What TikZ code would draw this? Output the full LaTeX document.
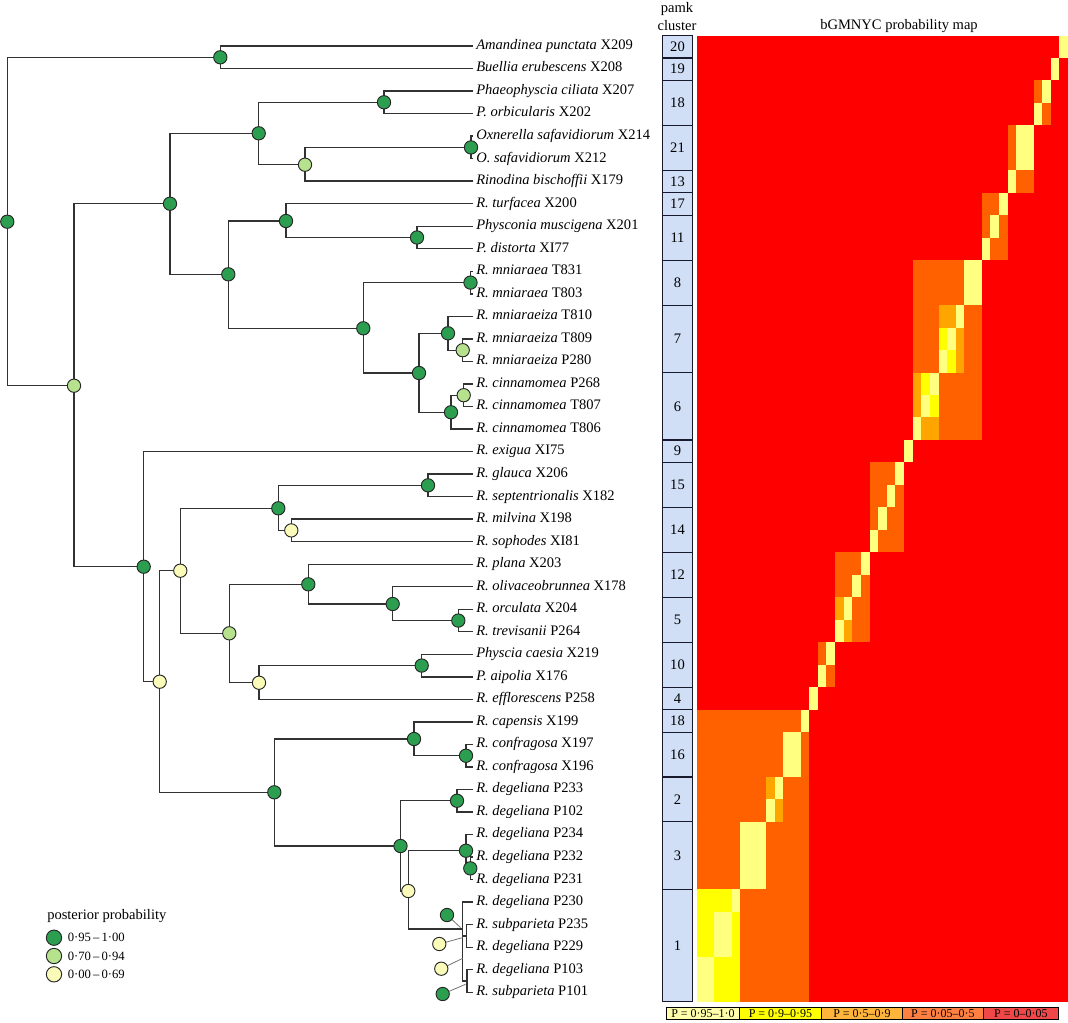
\documentclass[tikz,border=0pt]{standalone}
\usepackage{fontspec}
\setmainfont{Liberation Serif}
\usetikzlibrary{backgrounds}
\definecolor{cdg}{RGB}{44,158,80}
\definecolor{clg}{RGB}{182,226,142}
\definecolor{cly}{RGB}{250,250,185}
\definecolor{cbr}{RGB}{50,50,50}
\definecolor{hpale}{RGB}{255,255,128}
\definecolor{hyel}{RGB}{255,255,0}
\definecolor{hmid}{RGB}{255,165,0}
\definecolor{horg}{RGB}{255,96,0}
\definecolor{hred}{RGB}{255,0,0}
\definecolor{cpamk}{RGB}{208,222,246}
\definecolor{cbox}{RGB}{25,25,45}
\definecolor{lpale}{RGB}{255,255,170}
\definecolor{lyel}{RGB}{255,255,0}
\definecolor{lmid}{RGB}{255,180,60}
\definecolor{lorg}{RGB}{255,128,64}
\definecolor{lred}{RGB}{240,72,72}
\def\hmcw{8.628}
\def\hmrh{22.47}
\def\hmtop{35.5}
\newcommand{\hmblk}[5]{\fill[#5] ({697+(43-#4)*\hmcw},{\hmtop+(#1-1)*\hmrh}) rectangle ({697+(44-#3)*\hmcw},{\hmtop+#2*\hmrh});}
\tikzset{
  pp/.style={circle, draw=black!85, line width=0.7pt, minimum size=10pt, inner sep=0pt},
  dg/.style={pp, fill=cdg},
  lg/.style={pp, fill=clg},
  ly/.style={pp, fill=cly},
  br/.style={line width=1.05pt, draw=cbr},
  leader/.style={line width=0.6pt, draw=black!55},
  leaf/.style={anchor=west, inner xsep=2.25pt, inner ysep=0pt, text height=7.5pt, text depth=2.4pt, font=\fontsize{10.9}{12}\selectfont},
  pbox/.style={draw=cbox, line width=0.8pt, fill=cpamk},
  pnum/.style={inner sep=0pt, font=\fontsize{10.9}{12}\selectfont},
  head/.style={inner sep=0pt, font=\fontsize{10.9}{12}\selectfont},
  lgbox/.style={draw=black, line width=0.6pt, minimum height=8.5pt, inner sep=0pt, font=\fontsize{9}{10}\selectfont},
  lgtxt/.style={anchor=west, inner sep=0pt, font=\fontsize{9.5}{11}\selectfont},
  lgc/.style={circle, draw=black!85, line width=0.7pt, minimum size=11.5pt, inner sep=0pt}
}
\begin{document}
\begin{tikzpicture}[x=0.75pt,y=-0.75pt]
\useasboundingbox (0,0) rectangle (1068,1022);

% ---------- heatmap ----------
\fill[hred] (697,\hmtop) rectangle (1068,{\hmtop+43*\hmrh});
\hmblk{3}{4}{3}{4}{horg}
\hmblk{5}{7}{5}{7}{horg}
\hmblk{8}{10}{8}{10}{horg}
\hmblk{11}{18}{11}{18}{horg}
\hmblk{20}{23}{20}{23}{horg}
\hmblk{24}{27}{24}{27}{horg}
\hmblk{28}{29}{28}{29}{horg}
\hmblk{31}{43}{31}{43}{horg}
\hmblk{13}{15}{13}{15}{hmid}
\hmblk{16}{18}{16}{18}{hmid}
\hmblk{26}{27}{26}{27}{hmid}
\hmblk{34}{35}{34}{35}{hmid}
\hmblk{14}{15}{14}{15}{hyel}
\hmblk{16}{17}{16}{17}{hyel}
\hmblk{39}{43}{39}{43}{hyel}
\hmblk{5}{6}{5}{6}{hpale}
\hmblk{11}{12}{11}{12}{hpale}
\hmblk{32}{33}{32}{33}{hpale}
\hmblk{36}{38}{36}{38}{hpale}
\hmblk{40}{41}{40}{41}{hpale}
\hmblk{42}{43}{42}{43}{hpale}
\foreach \i in {1,...,43} {\hmblk{\i}{\i}{\i}{\i}{hpale}}

% ---------- pamk clusters ----------
\foreach \a/\b/\k in {1/1/20,2/2/19,3/4/18,5/6/21,7/7/13,8/8/17,9/10/11,11/12/8,13/15/7,16/18/6,19/19/9,20/21/15,22/23/14,24/25/12,26/27/5,28/29/10,30/30/4,31/31/18,32/33/16,34/35/2,36/38/3,39/43/1} {
  \draw[pbox] (662.5,{\hmtop+(\a-1)*\hmrh}) rectangle (692.5,{\hmtop+\b*\hmrh});
  \node[pnum] (pk\a) at (677.5,{\hmtop+(\a+\b-1)/2*\hmrh}) {\k};
}
\node[head] (hpamk) at (677,9) {pamk};
\node[head] (hclus) at (677,25.5) {cluster};
\node[head] (hmap) at (899,26.5) {bGMNYC probability map};

% ---------- leaves ----------
\foreach \i/\sp/\id in {1/Amandinea punctata/X209, 2/Buellia erubescens/X208, 3/Phaeophyscia ciliata/X207, 4/P. orbicularis/X202, 5/Oxnerella safavidiorum/X214, 6/O. safavidiorum/X212, 7/Rinodina bischoffii/X179, 8/R. turfacea/X200, 9/Physconia muscigena/X201, 10/P. distorta/XI77, 11/R. mniaraea/T831, 12/R. mniaraea/T803, 13/R. mniaraeiza/T810, 14/R. mniaraeiza/T809, 15/R. mniaraeiza/P280, 16/R. cinnamomea/P268, 17/R. cinnamomea/T807, 18/R. cinnamomea/T806, 19/R. exigua/XI75, 20/R. glauca/X206, 21/R. septentrionalis/X182, 22/R. milvina/X198, 23/R. sophodes/XI81, 24/R. plana/X203, 25/R. olivaceobrunnea/X178, 26/R. orculata/X204, 27/R. trevisanii/P264, 28/Physcia caesia/X219, 29/P. aipolia/X176, 30/R. efflorescens/P258, 31/R. capensis/X199, 32/R. confragosa/X197, 33/R. confragosa/X196, 34/R. degeliana/P233, 35/R. degeliana/P102, 36/R. degeliana/P234, 37/R. degeliana/P232, 38/R. degeliana/P231, 39/R. degeliana/P230, 40/R. subparieta/P235, 41/R. degeliana/P229, 42/R. degeliana/P103, 43/R. subparieta/P101} {
  \node[leaf] (l\i) at (473,{46+(\i-1)*22.53}) {\textit{\sp} \id};
}

% ---------- tree nodes ----------
\node[dg] (nR) at (7.3,221.7) {};
\node[dg] (nAB) at (220.3,57.3) {};
\node[lg] (na) at (74,385.7) {};
\node[dg] (nb) at (170,203.7) {};
\node[dg] (nd) at (258.7,133.3) {};
\node[dg] (nf) at (384,102.3) {};
\node[lg] (ng) at (305,164.7) {};
\node[dg] (nh) at (471,147.4) {};
\node[dg] (ne) at (228.3,274.3) {};
\node[dg] (ni) at (286,221) {};
\node[dg] (nk) at (417,237.5) {};
\node[dg] (nj) at (363.3,328.3) {};
\node[dg] (nl) at (470.5,282.6) {};
\node[dg] (nm) at (419,373) {};
\node[dg] (nn) at (448,333.3) {};
\node[lg] (np) at (462.7,350.2) {};
\node[dg] (no) at (451,412.3) {};
\node[lg] (nq) at (463.7,395.2) {};
\node[dg] (nc) at (143.7,566.7) {};
\node[ly] (nr) at (159.7,681.7) {};
\node[ly] (ns) at (180.3,570.7) {};
\node[dg] (nu) at (278.3,508.3) {};
\node[dg] (nw) at (428,485.35) {};
\node[ly] (nx) at (291.3,530.4) {};
\node[lg] (nv) at (229.3,633.3) {};
\node[dg] (ny) at (308.3,584.3) {};
\node[dg] (naa) at (392.7,604) {};
\node[dg] (nab) at (458.3,620.55) {};
\node[ly] (nz) at (259,682.7) {};
\node[dg] (nac) at (421.7,665.55) {};
\node[dg] (nt) at (274.3,792.3) {};
\node[dg] (nad) at (414,739) {};
\node[dg] (naf) at (466,755.7) {};
\node[dg] (nae) at (400.5,846) {};
\node[dg] (nag) at (457,800.75) {};
\node[ly] (nah) at (408.3,891) {};
\node[dg] (nai) at (466,850.7) {};
\node[dg] (nak) at (470.3,868.35) {};
\coordinate (naj) at (462.7,929);
\coordinate (nal) at (466.7,935.95);
\coordinate (nam) at (467,981);

% callouts for the tiny cluster-1 nodes
\node[dg] (k1) at (447,915) {};
\node[ly] (k2) at (439.3,944) {};
\node[ly] (k3) at (441.3,968.7) {};
\node[dg] (k4) at (442.7,994) {};
\coordinate (t1) at (460.5,927.5);
\coordinate (t2) at (463,937.5);
\coordinate (t3) at (462.7,958.3);
\coordinate (t4) at (465.5,984.3);

\begin{pgfonlayer}{background}
\foreach \p/\c in {nR/nAB, nR/na, na/nb, na/nc, nb/nd, nb/ne, nd/nf, nd/ng, ng/nh, ne/ni, ne/nj, ni/nk, nj/nl, nj/nm, nm/nn, nm/no, nn/np, no/nq, nc/nr, nr/ns, nr/nt, ns/nu, ns/nv, nu/nw, nu/nx, nv/ny, nv/nz, ny/naa, naa/nab, nz/nac, nt/nad, nt/nae, nad/naf, nae/nag, nae/nah, nah/nai, nah/naj, nai/nak, naj/nal, naj/nam} {
  \draw[br] (\p.center) |- (\c.center);
}
\foreach \p/\c in {nAB/1, nAB/2, nf/3, nf/4, nh/5, nh/6, ng/7, ni/8, nk/9, nk/10, nl/11, nl/12, nn/13, np/14, np/15, nq/16, nq/17, no/18, nc/19, nw/20, nw/21, nx/22, nx/23, ny/24, naa/25, nab/26, nab/27, nac/28, nac/29, nz/30, nad/31, naf/32, naf/33, nag/34, nag/35, nai/36, nak/37, nak/38, naj/39, nal/40, nal/41, nam/42, nam/43} {
  \draw[br] (\p.center) |- (l\c.west);
}
\draw[leader] (k1) -- (t1);
\draw[leader] (k2) -- (t2);
\draw[leader] (k3) -- (t3);
\draw[leader] (k4) -- (t4);
\end{pgfonlayer}

% ---------- posterior legend ----------
\node[anchor=west, inner sep=0pt, font=\fontsize{10.9}{12}\selectfont] (ptitle) at (47,916.5) {posterior probability};
\node[lgc, fill=cdg] (g1) at (54,937.7) {};
\node[lgc, fill=clg] (g2) at (54,956) {};
\node[lgc, fill=cly] (g3) at (54,974.3) {};
\node[lgtxt] (gt1) at (67.5,937.7) {0·95\,–\,1·00};
\node[lgtxt] (gt2) at (67.5,956) {0·70\,–\,0·94};
\node[lgtxt] (gt3) at (67.5,974.3) {0·00\,–\,0·69};

% ---------- probability legend ----------
\node[lgbox, fill=lpale, minimum width=54.45pt] (b1) at (703,1013.3) {P = 0·95–1·0};
\node[lgbox, fill=lyel, minimum width=61.8pt] (b2) at (780.5,1013.3) {P = 0·9–0·95};
\node[lgbox, fill=lmid, minimum width=60.45pt] (b3) at (862,1013.3) {P = 0·5–0·9};
\node[lgbox, fill=lorg, minimum width=60.75pt] (b4) at (942.8,1013.3) {P = 0·05–0·5};
\node[lgbox, fill=lred, minimum width=56.25pt] (b5) at (1020.8,1013.3) {P = 0–0·05};
\end{tikzpicture}
\end{document}
